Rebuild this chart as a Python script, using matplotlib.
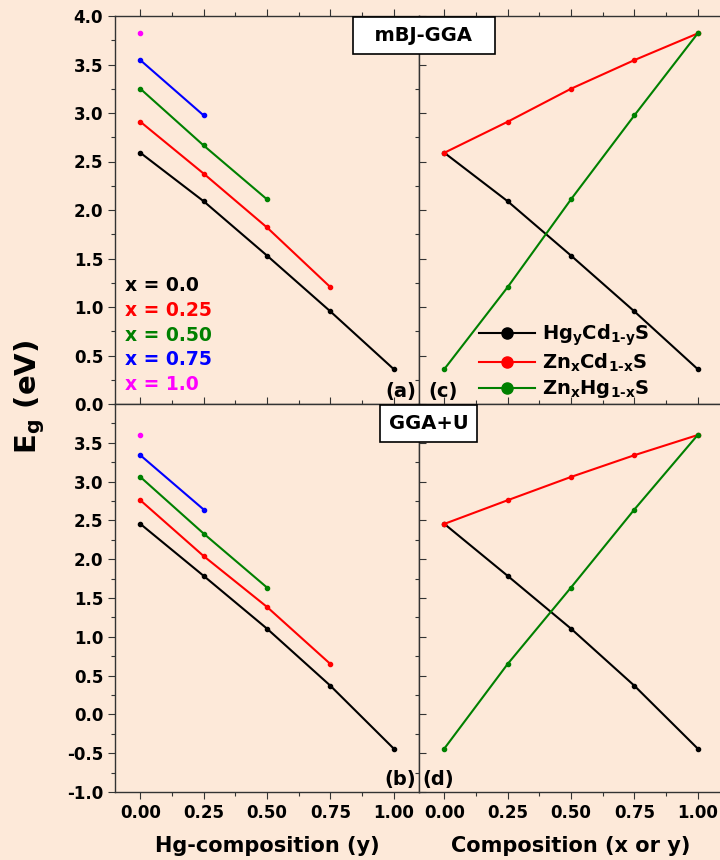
import matplotlib
matplotlib.use('Agg')
import matplotlib.pyplot as plt
from matplotlib.ticker import MultipleLocator, FormatStrFormatter
from matplotlib.lines import Line2D
import numpy as np

plt.rcParams['font.family'] = ['DejaVu Sans']
plt.rcParams['font.weight'] = 'bold'
plt.rcParams['mathtext.fontset'] = 'dejavusans'
plt.rcParams['mathtext.default'] = 'bf'

# Hg composition (y) and Zn composition (x)
y_comp = [0.0, 0.25, 0.50, 0.75, 1.0]
x_labels = ['x = 0.0', 'x = 0.25', 'x = 0.50', 'x = 0.75', 'x = 1.0']
colors = ['black', 'red', 'green', 'blue', 'magenta']

# mBJ-GGA band gaps, one list per x (values vs y)
mbj_x000 = [2.59, 2.09, 1.53, 0.955, 0.36]
mbj_x025 = [2.91, 2.375, 1.82, 1.205]
mbj_x050 = [3.25, 2.665, 2.11]
mbj_x075 = [3.545, 2.975]
mbj_x100 = [3.82]

# GGA+U band gaps
ggau_x000 = [2.455, 1.785, 1.105, 0.37, -0.44]
ggau_x025 = [2.76, 2.04, 1.385, 0.65]
ggau_x050 = [3.06, 2.33, 1.635]
ggau_x075 = [3.34, 2.64]
ggau_x100 = [3.60]

# ternary alloys vs composition
comp = [0.0, 0.25, 0.50, 0.75, 1.0]
mbj_hgcds = [2.59, 2.09, 1.53, 0.955, 0.36]
mbj_zncds = [2.59, 2.91, 3.25, 3.545, 3.82]
mbj_znhgs = [0.36, 1.205, 2.11, 2.975, 3.82]
ggau_hgcds = [2.455, 1.785, 1.105, 0.37, -0.44]
ggau_zncds = [2.455, 2.76, 3.06, 3.34, 3.60]
ggau_znhgs = [-0.44, 0.65, 1.635, 2.64, 3.60]

bg = '#fde9d9'
fig = plt.figure(figsize=(7.2, 8.6), dpi=100, facecolor=bg)

W = 304 / 720
H = 388 / 860
x_l = 115 / 720
x_r = 419 / 720
y_b = 1 - 792 / 860
y_t = y_b + H

ax_a = fig.add_axes([x_l, y_t, W, H])
ax_c = fig.add_axes([x_r, y_t, W, H])
ax_b = fig.add_axes([x_l, y_b, W, H])
ax_d = fig.add_axes([x_r, y_b, W, H])

for ax in [ax_a, ax_b, ax_c, ax_d]:
    ax.set_facecolor(bg)
    ax.set_xlim(-0.1, 1.1)
    ax.xaxis.set_major_locator(MultipleLocator(0.25))
    ax.xaxis.set_minor_locator(MultipleLocator(0.125))
    ax.yaxis.set_minor_locator(MultipleLocator(0.25))
    for s in ax.spines.values():
        s.set_linewidth(1.0)
        s.set_color('#333333')
    ax.tick_params(which='both', labelsize=12, width=0.8, color='#333333')
    ax.tick_params(which='major', length=5)
    ax.tick_params(which='minor', length=3)
    # short outward ticks along the top edge
    ax.tick_params(axis='x', which='both', top=True, labeltop=False)

for ax in [ax_a, ax_c]:
    ax.set_ylim(0, 4.0)
    ax.set_yticks(np.arange(0, 4.01, 0.5))
    ax.tick_params(axis='x', which='both', bottom=False, labelbottom=False)
for ax in [ax_b, ax_d]:
    ax.set_ylim(-1.0, 4.0)
    ax.set_yticks(np.arange(-1.0, 3.51, 0.5))
for ax in [ax_c, ax_d]:
    ax.tick_params(axis='y', direction='in', labelleft=False)

for ax in [ax_a, ax_b]:
    ax.yaxis.set_major_formatter(FormatStrFormatter('%.1f'))
for ax in [ax_b, ax_d]:
    ax.xaxis.set_major_formatter(FormatStrFormatter('%.2f'))

mbj = [mbj_x000, mbj_x025, mbj_x050, mbj_x075, mbj_x100]
ggau = [ggau_x000, ggau_x025, ggau_x050, ggau_x075, ggau_x100]

for vals, c in zip(mbj, colors):
    ax_a.plot(y_comp[:len(vals)], vals, '-o', color=c, lw=1.5, ms=3)
for vals, c in zip(ggau, colors):
    ax_b.plot(y_comp[:len(vals)], vals, '-o', color=c, lw=1.5, ms=3)

# colored x labels in panel (a)
for i, (lab, c) in enumerate(zip(x_labels, colors)):
    ax_a.text(0.033, 0.305 - i * 0.0638, lab, color=c, fontsize=13.5,
              fontweight='bold', transform=ax_a.transAxes, va='center')

tern_labels = [r'Hg$_{y}$Cd$_{1\text{-}y}$S', r'Zn$_{x}$Cd$_{1\text{-}x}$S',
               r'Zn$_{x}$Hg$_{1\text{-}x}$S']
tern_colors = ['black', 'red', 'green']

for vals, c in zip([mbj_hgcds, mbj_zncds, mbj_znhgs], tern_colors):
    ax_c.plot(comp, vals, '-o', color=c, lw=1.5, ms=3)
for vals, c in zip([ggau_hgcds, ggau_zncds, ggau_znhgs], tern_colors):
    ax_d.plot(comp, vals, '-o', color=c, lw=1.5, ms=3)

handles = [Line2D([], [], color=c, marker='o', ms=8, lw=1.5) for c in tern_colors]
ax_c.legend(handles, tern_labels, loc='center left', bbox_to_anchor=(0.197, 0.11),
            frameon=False, fontsize=14, handlelength=2.9, handletextpad=0.35,
            labelspacing=0.22, borderpad=0, borderaxespad=0)

ax_a.text(0.99, 0.008, '(a)', transform=ax_a.transAxes, ha='right', va='bottom', fontsize=14)
ax_c.text(0.03, 0.008, '(c)', transform=ax_c.transAxes, ha='left', va='bottom', fontsize=14)
ax_b.text(0.99, 0.008, '(b)', transform=ax_b.transAxes, ha='right', va='bottom', fontsize=14)
ax_d.text(0.01, 0.008, '(d)', transform=ax_d.transAxes, ha='left', va='bottom', fontsize=14)

box = dict(boxstyle='square,pad=0.45', facecolor='white', edgecolor='black', lw=1.2)
fig.text(423.5 / 720, 1 - 35.5 / 860, '  mBJ-GGA  ', ha='center', va='center',
         fontsize=14, fontweight='bold', bbox=box, zorder=10)
fig.text(428.5 / 720, 1 - 423.5 / 860, 'GGA+U', ha='center', va='center',
         fontsize=14, fontweight='bold', bbox=box, zorder=10)

ax_b.set_xlabel('Hg-composition (y)', fontsize=15, fontweight='bold', labelpad=10)
ax_d.set_xlabel('Composition (x or y)', fontsize=15, fontweight='bold', labelpad=10)
fig.text(30 / 720, 1 - 397 / 860, r'E$_{g}$ (eV)', rotation=90, ha='center', va='center',
         fontsize=21, fontweight='bold')

fig.savefig('out.png', dpi=100, facecolor=bg)
